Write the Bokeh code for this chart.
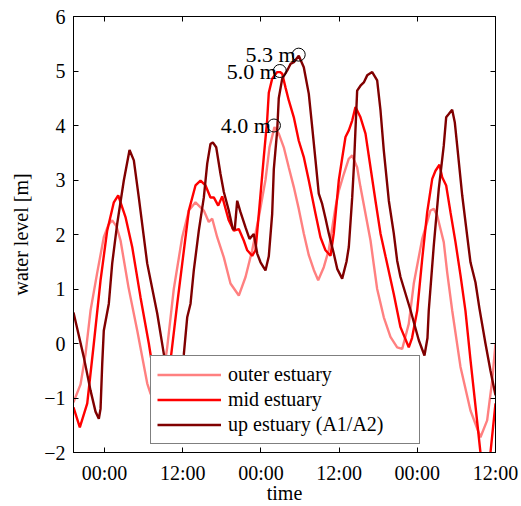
from bokeh.plotting import figure
from bokeh.models import Range1d, FixedTicker, LinearAxis, Legend, LegendItem
from bokeh.core.properties import value
from bokeh.embed import file_html
from bokeh.resources import INLINE

# ---- data (hours relative to first 00:00, water level in m) ----
outer_t = [-4.76, -3.68, -2.92, -2.15, -1.12, -0.11, 0.61, 1.18, 1.84, 2.46, 3.68, 5.02, 6.55, 7.06,
           7.98, 8.75, 9.62, 10.63, 11.92, 12.94, 13.96, 15.24, 16.00, 16.53, 17.29, 18.31, 19.33,
           20.61, 21.64, 22.66, 23.68, 24.70, 25.32, 26.08, 26.74, 27.51, 28.28, 29.05, 29.81, 30.58,
           31.35, 32.12, 32.79, 33.65, 34.42, 35.44, 35.95, 36.72, 37.49, 38.01, 38.77, 39.28, 40.05,
           40.82, 41.32, 41.84, 42.86, 43.88, 44.91, 45.68, 46.69, 47.46, 48.75, 49.52, 50.02, 50.53,
           51.05, 51.56, 52.06, 52.58, 53.35, 54.63, 56.16, 57.69, 58.72, 59.49, 60.0]
outer_h = [-1.08, -0.75, -0.2, 0.6, 1.3, 1.95, 2.18, 2.26, 2.15, 1.89, 1.03, 0.24, -0.73, -0.92,
           -1.1, -0.8, -0.07, 1.0, 1.95, 2.44, 2.59, 2.44, 2.23, 2.29, 1.95, 1.58, 1.1,
           0.88, 1.22, 1.71, 2.32, 3.0, 3.6, 3.97, 3.85, 3.6, 3.23, 2.87, 2.47, 2.02,
           1.62, 1.35, 1.16, 1.4, 1.72, 2.5, 2.8, 3.11, 3.39, 3.45, 3.23, 2.87, 2.38,
           1.89, 1.45, 1.0, 0.48, 0.12, -0.07, -0.1, 0.36, 1.1, 1.92, 2.23, 2.44, 2.47,
           2.35, 2.1, 1.86, 1.31, 0.61, -0.43, -1.23, -1.72, -1.41, -0.68, 0.0]

mid_t = [-4.76, -3.79, -2.65, -1.64, -0.61, 0.41, 1.43, 2.10, 3.22, 4.25, 5.52, 6.80, 7.98, 8.90,
         9.67, 10.13, 11.16, 11.92, 12.94, 13.96, 14.73, 15.50, 16.26, 16.77, 17.45, 18.06, 19.07,
         19.84, 20.61, 21.37, 21.90, 22.66, 23.17, 23.68, 24.44, 24.96, 25.21, 25.73, 26.50, 26.93,
         27.27, 27.77, 28.28, 29.05, 29.81, 30.58, 31.35, 32.38, 33.14, 33.91, 34.68, 35.18, 35.95,
         36.47, 36.98, 37.49, 38.01, 38.51, 39.28, 40.05, 40.82, 41.58, 42.35, 43.12, 44.39, 45.42,
         46.69, 47.19, 47.98, 48.75, 49.52, 50.29, 50.79, 51.40, 51.82, 52.43, 53.09, 53.86, 54.63,
         55.39, 56.16, 56.93, 57.69, 58.46, 59.23, 60.0]
mid_h = [-1.17, -1.54, -1.1, 0.0, 1.16, 2.07, 2.59, 2.72, 2.32, 1.77, 0.85, 0.0, -0.9, -1.2,
         -0.8, -0.31, 0.73, 1.46, 2.44, 2.9, 2.99, 2.9, 2.68, 2.68, 2.53, 2.7, 2.26,
         2.07, 2.1, 1.89, 1.71, 1.61, 1.71, 2.38, 3.42, 4.1, 4.6, 4.86, 4.98, 4.98,
         4.95, 4.7, 4.46, 4.15, 3.72, 3.42, 2.99, 2.38, 1.95, 1.71, 1.61, 2.02, 2.99,
         3.4, 3.79, 3.91, 4.09, 4.34, 4.15, 3.85, 3.23, 2.62, 2.02, 1.6, 0.91, 0.3,
         -0.07, 0.1, 0.6, 1.55, 2.41, 3.02, 3.17, 3.28, 3.05, 2.9, 2.41, 1.86, 1.25,
         0.6, -0.3, -1.15, -2.0, -2.5, -2.0, -1.1]

up_t = [-4.76, -3.18, -2.15, -1.38, -0.87, -0.61, -0.35, -0.11, 0.66, 1.18, 1.95, 2.96, 3.84, 4.50,
        5.26, 6.55, 8.09, 9.10, 10.13, 11.05, 11.66, 12.17, 12.69, 13.20, 13.70, 14.47, 15.24,
        15.76, 16.26, 16.62, 17.14, 17.80, 18.31, 19.07, 19.69, 19.99, 20.36, 20.87, 21.64, 22.25,
        22.91, 23.43, 23.94, 24.70, 25.21, 25.73, 25.98, 26.50, 26.74, 27.27, 28.04, 28.54, 29.05,
        29.81, 30.58, 31.35, 31.87, 32.38, 32.88, 33.40, 33.91, 34.42, 35.18, 35.71, 36.47, 37.13,
        37.49, 38.01, 38.26, 38.77, 39.28, 39.79, 40.31, 41.08, 41.84, 42.35, 42.86, 43.63, 44.39,
        44.91, 45.42, 46.96, 48.23, 49.10, 49.56, 49.76, 50.53, 51.30, 52.06, 52.43, 52.83, 53.35,
        53.75, 54.12, 54.89, 55.65, 56.16, 56.93, 57.54, 58.46, 59.23, 60.0]
up_h = [0.57, -0.25, -0.86, -1.25, -1.38, -1.2, -0.37, 0.24, 0.73, 1.47, 2.2, 2.99, 3.55, 3.36,
        2.68, 1.47, 0.55, -0.19, -0.9, -1.1, -0.7, -0.2, 0.48, 0.73, 1.34, 2.07, 2.68,
        3.3, 3.66, 3.69, 3.6, 3.11, 2.78, 2.44, 2.1, 2.1, 2.62, 2.41, 2.13, 1.92,
        2.01, 1.65, 1.49, 1.34, 1.6, 2.38, 3.2, 3.91, 4.5, 4.86, 5.01, 5.13, 5.16,
        5.28, 5.07, 4.58, 3.97, 3.36, 2.75, 2.56, 2.3, 2.02, 1.65, 1.37, 1.19, 1.5,
        1.77, 2.68, 3.23, 4.64, 4.73, 4.79, 4.92, 4.98, 4.83, 4.28, 3.54, 2.62, 2.02,
        1.52, 1.22, 0.61, 0.06, -0.22, 0.1, 0.61, 1.8, 2.84, 3.63, 4.15, 4.21, 4.29,
        4.06, 3.63, 2.72, 1.98, 1.49, 1.12, 0.64, 0.0, -0.5, -0.95]

peak_t = [26.0, 26.9, 29.8]
peak_h = [4.0, 5.0, 5.3]
peak_labels = ["4.0 m", "5.0 m", "5.3 m"]

x_ticks = [0, 12, 24, 36, 48, 60]
x_tick_labels = ["00:00", "12:00", "00:00", "12:00", "00:00", "12:00"]
y_ticks = [-2, -1, 0, 1, 2, 3, 4, 5, 6]
y_tick_labels = ["\u22122", "\u22121", "0", "1", "2", "3", "4", "5", "6"]

series_names = ["outer estuary", "mid estuary", "up estuary (A1/A2)"]
series_colors = ["#FF8080", "#FF0000", "#800000"]
x_title = "time"
y_title = "water level [m]"

FONT = "Liberation Serif"

p = figure(width=521, height=506, output_backend="svg", toolbar_location=None,
           x_range=Range1d(-4.76, 60), y_range=Range1d(-2, 6),
           min_border_left=73, min_border_right=26, min_border_top=16, min_border_bottom=54)
p.background_fill_color = "white"
p.border_fill_color = "white"
p.outline_line_color = "black"
p.outline_line_width = 1
p.grid.visible = False

renderers = []
for t, h, c in zip([outer_t, mid_t, up_t], [outer_h, mid_h, up_h], series_colors):
    r = p.line(t, h, line_color=c, line_width=2.4)
    renderers.append(r)

p.scatter(peak_t, peak_h, marker="circle", size=13, fill_color=None, line_color="black", line_width=1)
p.text(peak_t, peak_h, text=peak_labels, text_align="right", text_baseline="middle", x_offset=-3,
       text_font=value(FONT), text_font_size="22px", text_color="black")

def style_axis(ax, show_labels=True):
    ax.axis_line_color = "black"
    ax.major_tick_in = 5
    ax.major_tick_out = 0
    ax.minor_tick_line_color = None
    ax.major_tick_line_color = "black"
    ax.major_label_text_font = FONT
    ax.major_label_text_color = "black"
    ax.axis_label_text_font = FONT
    ax.axis_label_text_font_style = "normal"
    ax.axis_label_text_font_size = "20px"
    ax.axis_label_text_color = "black"
    ax.major_label_text_font_size = "20px"
    if not show_labels:
        ax.major_label_text_color = None
        ax.major_label_standoff = 0

xt = FixedTicker(ticks=x_ticks)
yt = FixedTicker(ticks=y_ticks)
xover = {t: l for t, l in zip(x_ticks, x_tick_labels)}
yover = {t: l for t, l in zip(y_ticks, y_tick_labels)}

xa = p.xaxis[0]
xa.ticker = xt
xa.major_label_overrides = xover
xa.axis_label = x_title
style_axis(xa)
xa.major_label_standoff = 9
xa.axis_label_standoff = -5

ya = p.yaxis[0]
ya.ticker = yt
ya.major_label_overrides = yover
ya.axis_label = y_title
style_axis(ya)
ya.major_label_standoff = 8
ya.axis_label_standoff = 9

top = LinearAxis(ticker=FixedTicker(ticks=x_ticks))
style_axis(top, False)
p.add_layout(top, "above")
right = LinearAxis(ticker=FixedTicker(ticks=y_ticks))
style_axis(right, False)
p.add_layout(right, "right")

legend = Legend(items=[LegendItem(label=n, renderers=[r]) for n, r in zip(series_names, renderers)],
                location=(77, 8))
legend.label_text_font = FONT
legend.label_text_font_size = "20px"
legend.label_text_color = "black"
legend.glyph_width = 64
legend.glyph_height = 25
legend.label_height = 25
legend.label_width = 185
legend.label_standoff = 7
legend.padding = 6
legend.spacing = 0
legend.margin = 0
legend.border_line_color = "black"
legend.border_line_width = 1
legend.background_fill_color = "white"
legend.background_fill_alpha = 1.0
p.add_layout(legend, "center")

open("out.html", "w").write(file_html(p, INLINE))
